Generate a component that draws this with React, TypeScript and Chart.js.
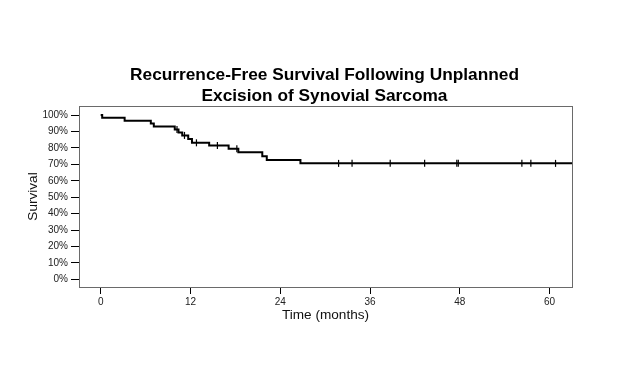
import React, { useEffect, useRef } from "react";
import { Chart, registerables } from "chart.js";

Chart.register(...registerables);

// Kaplan-Meier step points (time in months, survival in %)
const EVENT_TIMES = [0, 0.2, 3.2, 6.7, 7.1, 9.9, 10.4, 10.9, 11.7, 12.2, 14.5, 17.1, 18.4, 21.6, 22.2, 26.7, 63];
const SURVIVAL = [100, 98.3, 96.6, 94.8, 93.0, 91.2, 89.4, 87.6, 85.5, 83.1, 81.4, 79.5, 77.3, 74.9, 72.6, 70.6, 70.6];
// Censored observations (time in months)
const CENSOR_TIMES = [10.2, 11.2, 12.8, 15.6, 18.2, 31.8, 33.6, 38.7, 43.3, 47.6, 47.8, 56.3, 57.5, 60.8];

const X_TICKS = [0, 12, 24, 36, 48, 60];
const Y_TICKS = [0, 10, 20, 30, 40, 50, 60, 70, 80, 90, 100];

const TITLE_LINES = ["Recurrence-Free Survival Following Unplanned", "Excision of Synovial Sarcoma"];
const X_TITLE = "Time (months)";
const Y_TITLE = "Survival";

const FONT = "'Liberation Sans', Arial, Helvetica, sans-serif";

function survivalAt(t: number): number {
  let s = SURVIVAL[0];
  for (let i = 0; i < EVENT_TIMES.length; i++) {
    if (EVENT_TIMES[i] <= t) s = SURVIVAL[i];
  }
  return s;
}

const framePlugin = {
  id: "frameAndTitle",
  afterDraw(chart: any) {
    const { ctx, chartArea } = chart;
    ctx.save();
    ctx.strokeStyle = "#6a6a6a";
    ctx.lineWidth = 1;
    ctx.strokeRect(
      Math.round(chartArea.left) + 0.5,
      Math.round(chartArea.top) + 0.5,
      Math.round(chartArea.right - chartArea.left),
      Math.round(chartArea.bottom - chartArea.top)
    );
    ctx.fillStyle = "#000";
    ctx.font = `bold 17.3px ${FONT}`;
    ctx.textAlign = "center";
    ctx.textBaseline = "alphabetic";
    const cx = (chartArea.left + chartArea.right) / 2;
    ctx.fillText(TITLE_LINES[0], cx - 1, 80);
    ctx.fillText(TITLE_LINES[1], cx - 1, 100.5);
    ctx.restore();
  },
};

export default function App() {
  const ref = useRef<HTMLCanvasElement | null>(null);

  useEffect(() => {
    if (!ref.current) return;
    const kmData = EVENT_TIMES.map((t, i) => ({ x: t, y: SURVIVAL[i] }));
    const censorData = CENSOR_TIMES.map((t) => ({ x: t, y: survivalAt(t) }));

    const chart = new Chart(ref.current, {
      type: "line",
      data: {
        datasets: [
          {
            label: "KM",
            data: kmData,
            stepped: "before",
            borderColor: "#000",
            borderWidth: 2,
            pointRadius: 0,
            fill: false,
          },
          {
            label: "Censored",
            data: censorData,
            showLine: false,
            pointStyle: "line",
            rotation: 90,
            pointRadius: 3.5,
            pointBorderWidth: 1.2,
            pointBorderColor: "#000",
            borderColor: "#000",
          } as any,
        ],
      },
      options: {
        responsive: false,
        animation: false,
        events: [],
        layout: { padding: { left: 20.6, right: 52, top: 106, bottom: 50.6 } },
        plugins: {
          legend: { display: false },
          tooltip: { enabled: false },
          title: { display: false },
        },
        scales: {
          x: {
            type: "linear",
            min: -2.9,
            max: 63,
            afterBuildTicks: (scale: any) => {
              scale.ticks = X_TICKS.map((v) => ({ value: v }));
            },
            afterFit: (scale: any) => {
              scale.height = 36.4;
            },
            ticks: {
              autoSkip: false,
              maxRotation: 0,
              padding: 2,
              color: "#222",
              font: { family: FONT, size: 10 },
              callback: (v: any) => String(v),
            },
            grid: { drawOnChartArea: false, drawTicks: true, tickLength: 7, tickColor: "#000", tickWidth: 1 },
            border: { display: false },
            title: {
              display: true,
              text: X_TITLE,
              color: "#111",
              font: { family: FONT, size: 13.6 },
              padding: { top: 0, bottom: 0 },
            },
          },
          y: {
            type: "linear",
            min: -4.6,
            max: 105.5,
            afterBuildTicks: (scale: any) => {
              scale.ticks = Y_TICKS.map((v) => ({ value: v }));
            },
            afterFit: (scale: any) => {
              scale.width = 58.4;
            },
            ticks: {
              autoSkip: false,
              padding: 3,
              color: "#222",
              font: { family: FONT, size: 10 },
              callback: (v: any) => `${v}%`,
            },
            grid: { drawOnChartArea: false, drawTicks: true, tickLength: 8, tickColor: "#000", tickWidth: 1 },
            border: { display: false },
            title: {
              display: true,
              text: Y_TITLE,
              color: "#111",
              font: { family: FONT, size: 13.6 },
              padding: { top: 4, bottom: 0 },
            },
          },
        },
      },
      plugins: [framePlugin],
    } as any);

    return () => chart.destroy();
  }, []);

  return (
    <div style={{ position: "fixed", left: 0, top: 0, width: 624, height: 374, background: "#fff" }}>
      <canvas ref={ref} width={624} height={374} style={{ width: 624, height: 374, display: "block" }} />
    </div>
  );
}
